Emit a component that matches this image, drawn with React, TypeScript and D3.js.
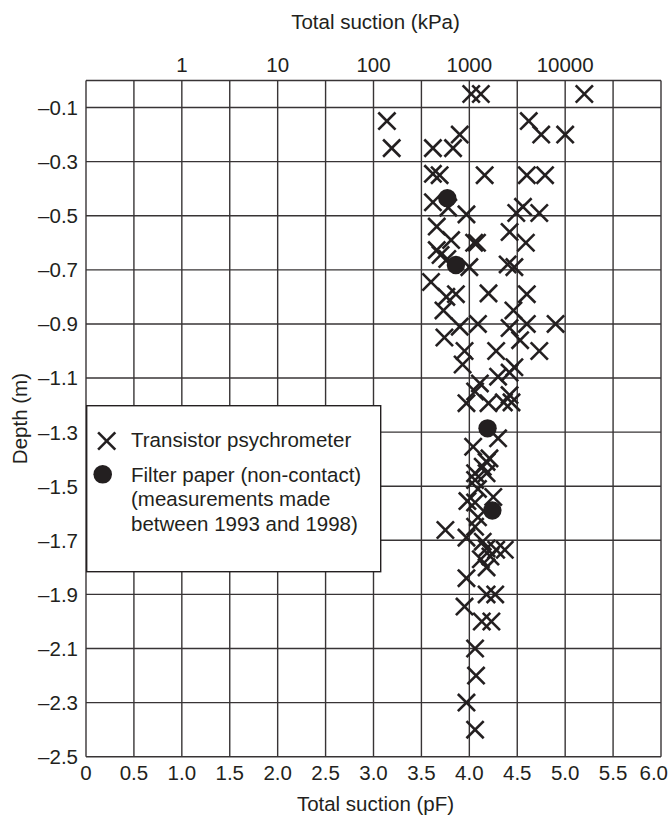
import React from "react";
import * as d3 from "d3";

// Transistor psychrometer readings: total suction (pF) and depth (m)
const psychroPF = [
  4.02, 4.12, 5.2,
  3.14, 4.62,
  3.9, 4.75, 5.0,
  3.19, 3.62, 3.83,
  3.62, 3.69, 4.16, 4.6, 4.79,
  3.62, 3.78, 3.97, 4.49, 4.56, 4.73,
  3.66, 4.42,
  3.81, 4.05, 4.08, 4.59,
  3.66, 3.7, 3.77,
  4.0, 4.4, 4.47,
  3.6,
  3.76, 3.86, 4.2, 4.6,
  3.73, 4.46,
  3.9, 4.09, 4.42, 4.6, 4.9,
  3.74, 4.53,
  3.95, 4.28, 4.73,
  3.93, 4.47,
  4.11, 4.3, 4.42,
  4.06, 4.42,
  3.97, 4.2, 4.36, 4.44,
  4.3, 4.04,
  4.21, 4.18, 4.14, 4.06, 4.18, 4.06,
  4.09, 4.25, 3.98, 4.06, 4.09,
  4.06, 3.75, 3.97,
  4.14, 4.18, 4.28, 4.37,
  4.12, 4.22, 4.18,
  3.97, 4.18, 4.27, 3.95,
  4.13, 4.23,
  4.06, 4.07, 3.97, 4.06,
];
const psychroDepth = [
  -0.05, -0.05, -0.05,
  -0.15, -0.15,
  -0.2, -0.2, -0.2,
  -0.25, -0.25, -0.25,
  -0.345, -0.35, -0.35, -0.35, -0.35,
  -0.45, -0.47, -0.495, -0.49, -0.467, -0.49,
  -0.54, -0.56,
  -0.59, -0.6, -0.6, -0.6,
  -0.627, -0.645, -0.66,
  -0.69, -0.68, -0.69,
  -0.745,
  -0.8, -0.79, -0.787, -0.79,
  -0.85, -0.85,
  -0.91, -0.9, -0.915, -0.9, -0.9,
  -0.95, -0.96,
  -1.0, -1.0, -1.0,
  -1.05, -1.06,
  -1.12, -1.095, -1.08,
  -1.15, -1.163,
  -1.193, -1.193, -1.19, -1.19,
  -1.323, -1.354,
  -1.397, -1.41, -1.428, -1.452, -1.452, -1.477,
  -1.51, -1.54, -1.555, -1.56, -1.615,
  -1.65, -1.662, -1.69,
  -1.705, -1.73, -1.735, -1.735,
  -1.77, -1.76, -1.8,
  -1.84, -1.9, -1.9, -1.945,
  -2.0, -2.0,
  -2.1, -2.2, -2.3, -2.4,
];

// Filter paper (non-contact) readings
const filterPF = [3.77, 3.86, 4.19, 4.24];
const filterDepth = [-0.435, -0.682, -1.286, -1.59];

// Axis ticks
const pfTicks = [0, 0.5, 1.0, 1.5, 2.0, 2.5, 3.0, 3.5, 4.0, 4.5, 5.0, 5.5, 6.0];
const depthTicks = [-0.1, -0.3, -0.5, -0.7, -0.9, -1.1, -1.3, -1.5, -1.7, -1.9, -2.1, -2.3, -2.5];
const kpaTicks = [1, 10, 100, 1000, 10000];

const legendLines = [
  "Transistor psychrometer",
  "Filter paper (non-contact)",
  "(measurements made",
  "between 1993 and 1998)",
];

const W = 669;
const H = 817;
const INK = "#231f20";
const FONT = "'Liberation Sans', Arial, Helvetica, sans-serif";
const FS = 20.5;

export default function App() {
  const x = d3.scaleLinear().domain([0, 6]).range([86, 661]);
  const y = d3.scaleLinear().domain([0, -2.5]).range([80.5, 756.7]);
  const kpaToPF = (k: number) => Math.log10(k) + 1;
  const fmtPF = (v: number) => (v === 0 ? "0" : d3.format(".1f")(v));
  const fmtDepth = (v: number) => "\u2013" + d3.format(".1f")(Math.abs(v));

  const psychro = psychroPF.map((p, i) => ({ p, d: psychroDepth[i] }));
  const filter = filterPF.map((p, i) => ({ p, d: filterDepth[i] }));
  const hs = 8.6;

  const cross = (cx: number, cy: number, key: string | number) => (
    <g key={key} stroke={INK} strokeWidth={2.6}>
      <line x1={cx - hs} y1={cy - hs} x2={cx + hs} y2={cy + hs} />
      <line x1={cx - hs} y1={cy + hs} x2={cx + hs} y2={cy - hs} />
    </g>
  );

  const [x0, x1] = x.range();
  const [y0, y1] = y.range();
  const lastPF = pfTicks[pfTicks.length - 1];

  return (
    <svg
      width={W}
      height={H}
      style={{ position: "absolute", left: 0, top: 0, background: "#fff" }}
      fontFamily={FONT}
      fontSize={FS}
    >
      <rect x={0} y={0} width={W} height={H} fill="#fff" />
      {/* grid */}
      <g stroke={INK} strokeWidth={1.4} opacity={0.9}>
        {pfTicks.map((t) => (
          <line key={"v" + t} x1={x(t)} x2={x(t)} y1={y0} y2={y1} />
        ))}
        {depthTicks.map((t) => (
          <line key={"h" + t} x1={x0} x2={x1} y1={y(t)} y2={y(t)} />
        ))}
        <line x1={x0} x2={x1} y1={y0} y2={y0} />
      </g>

      {/* data */}
      {psychro.map((d, i) => cross(x(d.p), y(d.d), i))}
      {filter.map((d, i) => (
        <circle key={"f" + i} cx={x(d.p)} cy={y(d.d)} r={9.2} fill={INK} />
      ))}

      {/* legend */}
      <rect x={86.7} y={405.7} width={294} height={166} fill="#fff" stroke={INK} strokeWidth={1.4} />
      {cross(106.7, 441, "lg")}
      <circle cx={102.7} cy={474.3} r={9.3} fill={INK} />
      <g fill={INK}>
        <text x={131} y={447.3}>{legendLines[0]}</text>
        <text x={131} y={481.7}>{legendLines[1]}</text>
        <text x={131} y={506.3}>{legendLines[2]}</text>
        <text x={131} y={531}>{legendLines[3]}</text>
      </g>

      {/* axis labels */}
      <g fill={INK}>
        {pfTicks.map((t) =>
          t === lastPF ? (
            <text key={"xl" + t} x={668} y={780} textAnchor="end">
              {fmtPF(t)}
            </text>
          ) : (
            <text key={"xl" + t} x={x(t)} y={780} textAnchor="middle">
              {fmtPF(t)}
            </text>
          )
        )}
        {depthTicks.map((t) => (
          <text key={"yl" + t} x={78} y={y(t) + 7.4} textAnchor="end">
            {fmtDepth(t)}
          </text>
        ))}
        {kpaTicks.map((k) => (
          <text key={"kl" + k} x={x(kpaToPF(k))} y={71.7} textAnchor="middle">
            {String(k)}
          </text>
        ))}
        <text x={(x0 + x1) / 2 + 2} y={29.3} textAnchor="middle">
          Total suction (kPa)
        </text>
        <text x={(x0 + x1) / 2 + 2} y={811} textAnchor="middle">
          Total suction (pF)
        </text>
        <text
          transform={`translate(26.7, ${(y0 + y1) / 2}) rotate(-90)`}
          textAnchor="middle"
        >
          Depth (m)
        </text>
      </g>
    </svg>
  );
}
